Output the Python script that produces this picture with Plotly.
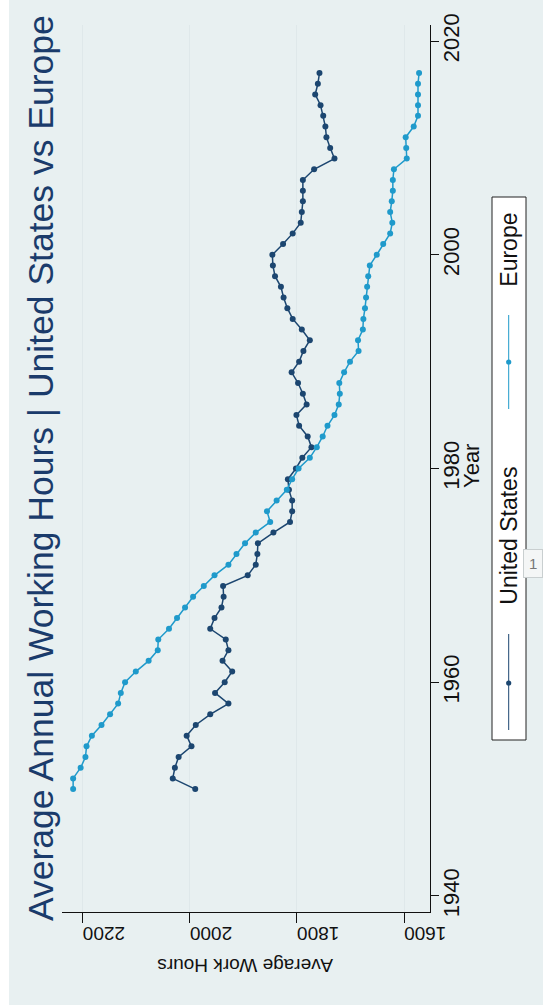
import plotly.graph_objects as go

years = list(range(1950, 2018))

europe_hours = [2218, 2218, 2204, 2195, 2193, 2183, 2165, 2149, 2134, 2129,
                2121, 2101, 2077, 2060, 2059, 2039, 2024, 2009, 1994, 1974,
                1954, 1928, 1913, 1897, 1877, 1850, 1856, 1838, 1819, 1809,
                1797, 1776, 1763, 1752, 1743, 1730, 1722, 1720, 1721, 1712,
                1701, 1685, 1686, 1677, 1676, 1673, 1671, 1669, 1667, 1664,
                1651, 1639, 1626, 1622, 1626, 1623, 1621, 1621, 1619, 1595,
                1596, 1597, 1582, 1574, 1574, 1574, 1574, 1572]

us_hours = [1990, 2032, 2028, 2021, 1997, 2006, 1989, 1962, 1928, 1953,
            1935, 1921, 1939, 1928, 1933, 1962, 1954, 1941, 1937, 1938,
            1892, 1877, 1874, 1873, 1844, 1813, 1809, 1809, 1815, 1817,
            1802, 1790, 1773, 1780, 1796, 1801, 1782, 1789, 1798, 1810,
            1796, 1788, 1776, 1791, 1808, 1818, 1825, 1830, 1841, 1845,
            1846, 1826, 1808, 1793, 1791, 1789, 1789, 1789, 1768, 1730,
            1738, 1745, 1747, 1751, 1756, 1766, 1761, 1758]

year_ticks = [1940, 1960, 1980, 2000, 2020]
hour_ticks = [1600, 1800, 2000, 2200]
series_names = ["United States", "Europe"]

TITLE = "Average Annual Working Hours | United States vs Europe"
X_TITLE = "Year"
Y_TITLE = "Average Work Hours"

US_COLOR = "#1c4670"
EU_COLOR = "#1f9acb"
BG = "#e8f0f1"
GRID = "#dfe8ea"
FONT = "Liberation Sans, Arial, sans-serif"

W, H = 543, 1008
L, R, T, B = 62, 113, 25, 96
PW, PH = W - L - R, H - T - B


def px(x):
    return (x - L) / PW


def py(y):
    return (H - B - y) / PH


fig = go.Figure()
fig.add_trace(go.Scatter(x=us_hours, y=years, mode="lines+markers", name=series_names[0],
                         line=dict(color=US_COLOR, width=1.5),
                         marker=dict(color=US_COLOR, size=6), showlegend=False))
fig.add_trace(go.Scatter(x=europe_hours, y=years, mode="lines+markers", name=series_names[1],
                         line=dict(color=EU_COLOR, width=1.5),
                         marker=dict(color=EU_COLOR, size=6), showlegend=False))

shapes = []
# outer background (leave thin white strip at left/bottom)
shapes.append(dict(type="rect", xref="paper", yref="paper", layer="below",
                   x0=px(9), x1=px(W + 5), y0=py(1005), y1=py(-5),
                   fillcolor=BG, line=dict(width=0)))
# legend box
lx0, lx1, ly0, ly1 = 492, 526, 197, 740
shapes.append(dict(type="rect", xref="paper", yref="paper",
                   x0=px(lx0), x1=px(lx1), y0=py(ly1), y1=py(ly0),
                   fillcolor="white", line=dict(color="#222222", width=1)))
lxc = 508.7
legend_items = [
    (series_names[1], EU_COLOR, 315, 409, 362, 250),
    (series_names[0], US_COLOR, 634, 730, 683, 536),
]
annotations = []
for name, col, ya, yb, ym, yt in legend_items:
    shapes.append(dict(type="line", xref="paper", yref="paper",
                       x0=px(lxc), x1=px(lxc), y0=py(ya), y1=py(yb),
                       line=dict(color=col, width=1)))
    r = 2.6
    shapes.append(dict(type="circle", xref="paper", yref="paper",
                       x0=px(lxc - r), x1=px(lxc + r), y0=py(ym + r), y1=py(ym - r),
                       fillcolor=col, line=dict(color=col, width=0)))
    annotations.append(dict(text=name, xref="paper", yref="paper",
                            x=px(lxc), y=py(yt), textangle=-90, showarrow=False,
                            xanchor="center", yanchor="middle",
                            font=dict(family=FONT, size=23, color="#111111")))

annotations.append(dict(text=TITLE, xref="paper", yref="paper",
                        x=px(41), y=py(468), textangle=-90, showarrow=False,
                        xanchor="center", yanchor="middle",
                        font=dict(family=FONT, size=35.5, color="#1a3b6b")))
annotations.append(dict(text=X_TITLE, xref="paper", yref="paper",
                        x=px(471), y=py(466), textangle=-90, showarrow=False,
                        xanchor="center", yanchor="middle",
                        font=dict(family=FONT, size=22, color="#111111")))
annotations.append(dict(text=Y_TITLE, xref="paper", yref="paper",
                        x=px(245), y=py(966), textangle=180, showarrow=False,
                        xanchor="center", yanchor="middle",
                        font=dict(family=FONT, size=19, color="#111111")))
annotations.append(dict(text="1", xref="paper", yref="paper",
                        x=px(533), y=py(563), showarrow=False,
                        xanchor="center", yanchor="middle",
                        bgcolor="#f4f6f6", bordercolor="#c9cfd0", borderwidth=1, borderpad=5,
                        font=dict(family=FONT, size=15, color="#777777")))

fig.update_layout(
    width=W, height=H,
    margin=dict(l=L, r=R, t=T, b=B, pad=0, autoexpand=False),
    paper_bgcolor="white",
    plot_bgcolor="white",
    shapes=shapes,
    annotations=annotations,
    showlegend=False,
    xaxis=dict(range=[2238.8, 1551.6], tickvals=hour_ticks,
               ticktext=[str(v) for v in hour_ticks], automargin=False,
               tickangle=180, showgrid=True, gridcolor=GRID, gridwidth=1,
               zeroline=False, showline=True, linecolor="#111111", linewidth=1,
               ticks="outside", ticklen=10, tickcolor="#111111", tickwidth=1,
               tickfont=dict(family=FONT, size=19, color="#111111"),
               side="bottom"),
    yaxis=dict(range=[1938.5, 2021.5], tickvals=year_ticks,
               ticktext=[str(v) for v in year_ticks], automargin=False,
               tickangle=-90, showgrid=False, zeroline=False,
               showline=True, linecolor="#111111", linewidth=1,
               ticks="outside", ticklen=8, tickcolor="#111111", tickwidth=1,
               ticklabelstandoff=-6,
               tickfont=dict(family=FONT, size=22, color="#111111"),
               side="right"),
)

fig.write_html("out.html",
               config={"displayModeBar": False},
               post_script="document.body.style.margin='0';document.body.style.padding='0';"
                           "document.body.style.overflow='hidden';")
